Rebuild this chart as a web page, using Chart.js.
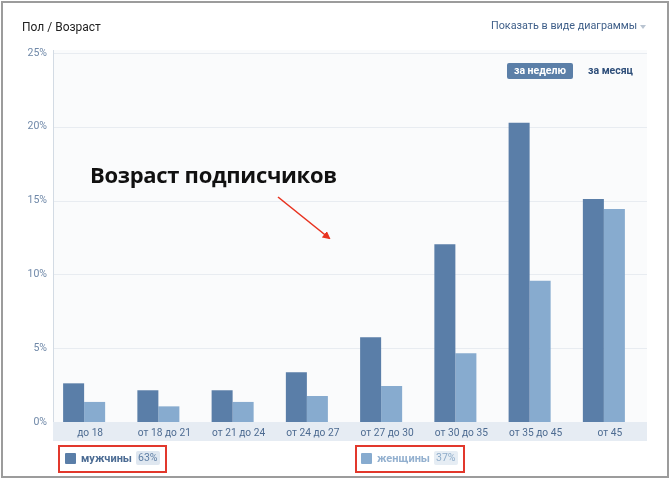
<!DOCTYPE html>
<html>
<head>
<meta charset="utf-8">
<script src="https://cdn.jsdelivr.net/npm/chart.js@4.4.0/dist/chart.umd.min.js"></script>
<style>
  html, body { margin:0; padding:0; background:#fff; }
  body { width:670px; height:482px; position:relative; overflow:hidden; font-family: Roboto, "Open Sans", sans-serif; }
  #frame { position:absolute; left:1px; top:1px; width:664px; height:473px; border:2px solid #9c9c9c; }
  #c { position:absolute; left:0; top:0; }
  .abs { position:absolute; white-space:nowrap; }
  #title { left:22px; top:20px; font-size:12px; color:#222; }
  #show { left:491px; top:19px; font-size:10.8px; color:#3f5f89; }
  #caret { left:640px; top:25px; width:0; height:0; border-left:3.5px solid transparent; border-right:3.5px solid transparent; border-top:4px solid #b9c4d1; }
  #week { left:507px; top:63px; width:66px; height:16px; background:#5b7fa8; color:#fff; font-weight:bold; font-size:10.5px; line-height:16px; text-align:center; border-radius:2px; }
  #month { left:588px; top:63px; font-weight:bold; font-size:10.5px; line-height:16px; color:#2f4f7a; }
  #note { left:90px; top:159px; font-family:"Open Sans", sans-serif; font-weight:bold; font-size:22px; color:#111; letter-spacing:-0.3px; }
  .lg { position:absolute; top:445px; height:28px; border:2px solid #e2382c; box-sizing:border-box; }
  .sq { position:absolute; top:6px; width:11px; height:11px; border-radius:1px; }
  .lt { position:absolute; top:3px; font-size:11px; font-weight:bold; line-height:17px; }
  .pill { position:absolute; top:4px; height:14px; line-height:14px; font-size:10.5px; padding:0 2px; border-radius:2px; }
  svg { position:absolute; left:0; top:0; }
</style>
</head>
<body>
<div id="frame"></div>
<canvas id="c" width="670" height="482"></canvas>
<div class="abs" id="title">Пол / Возраст</div>
<div class="abs" id="show">Показать в виде диаграммы</div>
<div class="abs" id="caret"></div>
<div class="abs" id="week">за неделю</div>
<div class="abs" id="month">за месяц</div>
<div class="abs" id="note">Возраст подписчиков</div>
<svg width="670" height="482">
  <defs>
    <marker id="ah" markerWidth="8" markerHeight="8" refX="6" refY="4" orient="auto" markerUnits="userSpaceOnUse">
      <path d="M0,0 L8,4 L0,8 Z" fill="#e8321f"/>
    </marker>
  </defs>
  <line x1="278" y1="197" x2="329" y2="238" stroke="#e8321f" stroke-width="1.6" marker-end="url(#ah)"/>
</svg>
<div id="legend"></div>
<script>
const categories = ["до 18","от 18 до 21","от 21 до 24","от 24 до 27","от 27 до 30","от 30 до 35","от 35 до 45","от 45"];
const seriesNames = ["мужчины","женщины"];
const menValues = [2.62, 2.15, 2.15, 3.37, 5.74, 12.04, 20.28, 15.11];
const womenValues = [1.36, 1.06, 1.36, 1.76, 2.44, 4.65, 9.57, 14.43];
const seriesShares = ["63%","37%"];
const yTicks = [0, 5, 10, 15, 20, 25];

const colors = ["#5a7ea8", "#87abcf"];
const legendCfg = [
  {left:58, width:109, sqLeft:5, textLeft:21, text:"#4b6b93", pillLeft:76, pillBg:"#dfe7f0", pillColor:"#5f7fa5"},
  {left:355, width:110, sqLeft:4, textLeft:20, text:"#93b0cf", pillLeft:77, pillBg:"#e6edf4", pillColor:"#8eacca"}
];
const lg = document.getElementById('legend');
seriesNames.forEach((n,i)=>{
  const c = legendCfg[i];
  const d = document.createElement('div');
  d.className='lg'; d.style.left=c.left+'px'; d.style.width=c.width+'px';
  d.innerHTML = `<div class="sq" style="left:${c.sqLeft}px;background:${colors[i]}"></div>`+
    `<div class="lt" style="left:${c.textLeft}px;color:${c.text}">${n}</div>`+
    `<div class="pill" style="left:${c.pillLeft}px;background:${c.pillBg};color:${c.pillColor}">${seriesShares[i]}</div>`;
  lg.appendChild(d);
});

const bgPlugin = {
  id:'bg',
  beforeDraw(chart){
    const {ctx, chartArea:a, scales:{y}} = chart;
    const L = a.left + 6, R = a.right + 6;
    ctx.save();
    ctx.fillStyle = '#fafbfc';
    ctx.fillRect(L, a.top-3, R-L, a.bottom-a.top+3);
    ctx.fillStyle = '#e6ecf3';
    ctx.fillRect(L, a.bottom, R-L, 19);
    ctx.strokeStyle = '#e8ecf1';
    ctx.lineWidth = 1;
    yTicks.forEach(v=>{
      if (v===0) return;
      const py = Math.round(y.getPixelForValue(v))+0.5;
      ctx.beginPath(); ctx.moveTo(L, py); ctx.lineTo(R, py); ctx.stroke();
    });
    ctx.strokeStyle = '#d3dbe4';
    ctx.beginPath(); ctx.moveTo(L+0.5, a.top-3); ctx.lineTo(L+0.5, a.bottom); ctx.stroke();
    ctx.restore();
  }
};

new Chart(document.getElementById('c'), {
  type:'bar',
  data:{
    labels:categories,
    datasets:[
      {label:seriesNames[0], data:menValues, backgroundColor:colors[0], borderWidth:0},
      {label:seriesNames[1], data:womenValues, backgroundColor:colors[1], borderWidth:0}
    ]
  },
  options:{
    responsive:false,
    animation:false,
    devicePixelRatio:1,
    categoryPercentage:0.566,
    barPercentage:1,
    layout:{padding:{top:53, right:29, bottom:41, left:0}},
    plugins:{legend:{display:false}, tooltip:{enabled:false}},
    scales:{
      x:{
        grid:{display:false, drawTicks:false},
        border:{display:false},
        ticks:{font:{family:'Roboto', size:10.2}, color:'#4d6b91', padding:5, labelOffset:6, maxRotation:0, autoSkip:false},
        afterFit(s){ s.height = 19; }
      },
      y:{
        min:0, max:25,
        grid:{display:false, drawTicks:false},
        border:{display:false},
        afterBuildTicks(s){ s.ticks = yTicks.map(v=>({value:v})); },
        ticks:{font:{family:'Roboto', size:10.5}, color:'#6f88a8', padding:0, callback:v=>v+'%'},
        afterFit(s){ s.width = 47; }
      }
    }
  },
  plugins:[bgPlugin]
});
</script>
</body>
</html>
